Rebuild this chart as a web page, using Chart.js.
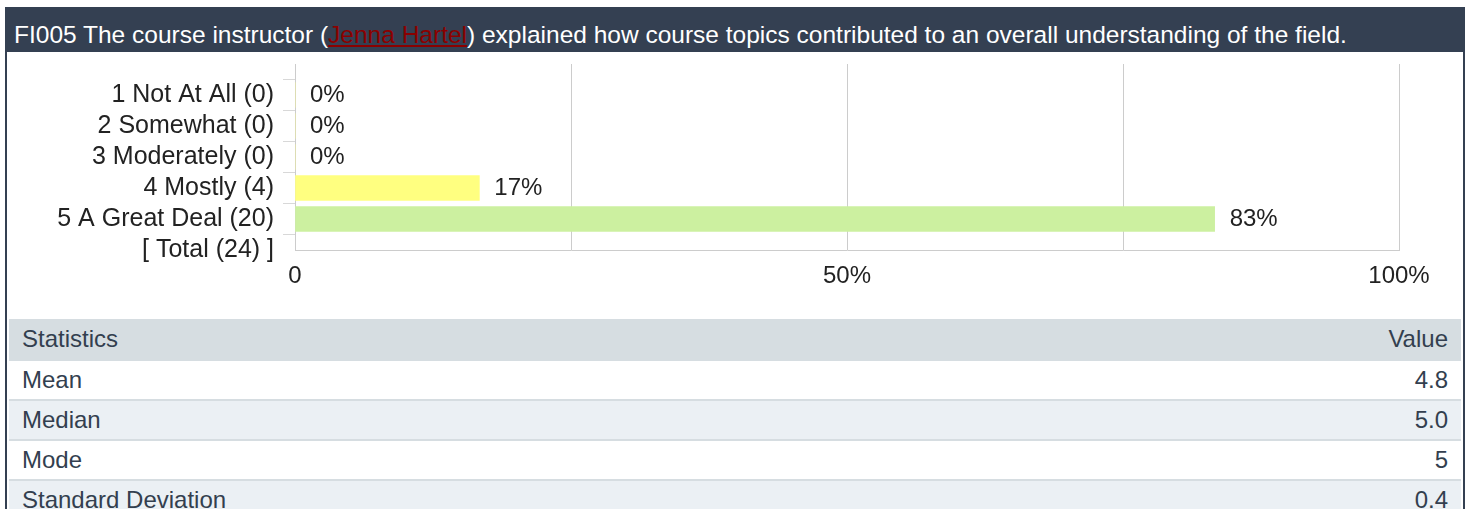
<!DOCTYPE html>
<html>
<head>
<meta charset="utf-8">
<script src="https://cdn.jsdelivr.net/npm/chart.js@4"></script>
<style>
    body { margin: 0; background: #fff; font-family: "Liberation Sans", Arial, sans-serif; }
    #wrap { position: absolute; left: 5px; top: 7px; width: 1460px; }
    #title { height: 45px; line-height: 56px; background: #344052; color: #fff; font-size: 24.5px; padding-left: 9px; white-space: nowrap; overflow: hidden; }
    #title a { color: #8b0000; }
    #body { border-left: 2px solid #344052; border-right: 2px solid #344052; }
    #chart-box { position: relative; width: 1456px; height: 279px; margin-top: -12px; }
    table { border-collapse: collapse; width: 1452px; margin: 0 2px; color: #333f4f; font-size: 24px; }
    th, td { height: 38px; padding: 0 13px; text-align: left; font-weight: normal; }
    th { background: #d6dde1; height: 40px; }
    td { border-top: 2px solid #d6dde1; }
    tr:nth-child(even) td { background: #ebf0f4; }
    .num { text-align: right; }
</style>
</head>
<body>
<div id="wrap">
    <div id="title">FI005 The course instructor (<a href="#">Jenna Hartel</a>) explained how course topics contributed to an overall understanding of the field.</div>
    <div id="body">
        <div id="chart-box"><canvas id="rating-chart"></canvas></div>
        <table id="stats">
            <thead><tr><th>Statistics</th><th class="num">Value</th></tr></thead>
            <tbody></tbody>
        </table>
    </div>
</div>
<script>
const categories = ['1 Not At All (0)', '2 Somewhat (0)', '3 Moderately (0)', '4 Mostly (4)', '5 A Great Deal (20)', '[ Total (24) ]'];
const percentages = [0, 0, 0, 16.7, 83.3, null];
const barColors = ['#ffff80', '#ffff80', '#ffff80', '#ffff80', '#ccf0a0', '#ccf0a0'];
const xTickValues = [0, 50, 100];
const xTickText = ['0', '50%', '100%'];
const statNames = ['Mean', 'Median', 'Mode', 'Standard Deviation'];
const statValues = ['4.8', '5.0', '5', '0.4'];

const fontFamily = '"Liberation Sans", Arial, sans-serif';
const labelFont = { family: fontFamily, size: 24 };
const categoryFont = { family: fontFamily, size: 25 };
const gridColor = '#cccccc';

const tbody = document.querySelector('#stats tbody');
statNames.forEach((name, i) => {
    const tr = document.createElement('tr');
    tr.innerHTML = `<td>${name}</td><td class="num">${statValues[i]}</td>`;
    tbody.appendChild(tr);
});

// percentage text to the right of each bar
const valueLabels = {
    id: 'valueLabels',
    afterDatasetsDraw(chart) {
        const ctx = chart.ctx;
        const meta = chart.getDatasetMeta(0);
        ctx.save();
        ctx.font = `${labelFont.size}px ${labelFont.family}`;
        ctx.fillStyle = '#222';
        ctx.textBaseline = 'middle';
        meta.data.forEach((bar, i) => {
            const v = chart.data.datasets[0].data[i];
            if (v === null) return;
            ctx.fillText(`${Math.round(v)}%`, bar.x + 15, bar.y);
        });
        ctx.restore();
    }
};

new Chart(document.getElementById('rating-chart'), {
    type: 'bar',
    data: {
        labels: [''].concat(categories),
        datasets: [{
            data: [null].concat(percentages),
            backgroundColor: ['transparent'].concat(barColors),
            barThickness: 25
        }]
    },
    plugins: [valueLabels],
    options: {
        indexAxis: 'y',
        responsive: true,
        maintainAspectRatio: false,
        animation: false,
        layout: { padding: { top: 0, right: 64, bottom: 21, left: 0 } },
        plugins: { legend: { display: false }, tooltip: { enabled: false } },
        scales: {
            x: {
                min: 0,
                max: 100,
                afterFit: (scale) => { scale.height = 48; },
                afterBuildTicks: (scale) => {
                    scale.ticks = [0, 25, 50, 75, 100].map(v => ({ value: v }));
                },
                ticks: {
                    font: labelFont,
                    color: '#222',
                    padding: 12,
                    maxRotation: 0,
                    callback: (v) => {
                        const i = xTickValues.indexOf(v);
                        return i < 0 ? '' : xTickText[i];
                    }
                },
                grid: { color: gridColor, drawTicks: false },
                border: { color: gridColor }
            },
            y: {
                offset: false,
                afterFit: (scale) => { scale.width = 288; },
                ticks: { font: categoryFont, color: '#222', padding: 9, autoSkip: false },
                grid: {
                    drawOnChartArea: false,
                    tickLength: 12,
                    color: (c) => c.index === 0 ? 'rgba(0,0,0,0)' : '#d8d8d8'
                },
                border: { color: gridColor }
            }
        }
    }
});
</script>
</body>
</html>
